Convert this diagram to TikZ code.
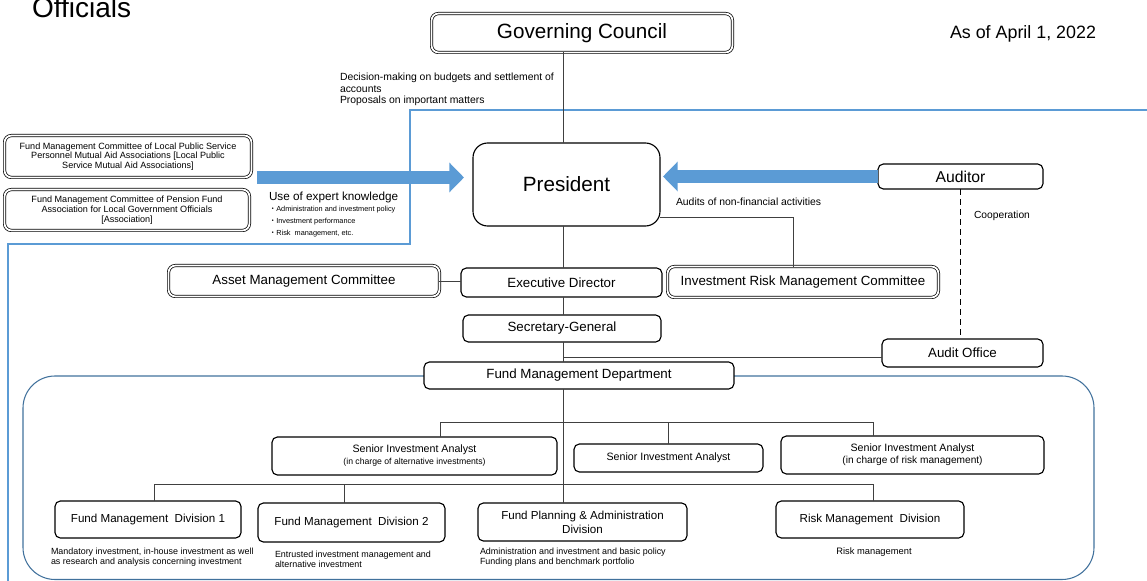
\documentclass[tikz,border=0pt]{standalone}
\usepackage{fontspec}
\setmainfont{Liberation Sans}
\newfontfamily\cjk{Noto Sans CJK JP}
\usetikzlibrary{arrows.meta}
\definecolor{frameblue}{HTML}{5B9BD5}
\definecolor{deptblue}{HTML}{41719C}
\definecolor{arrowblue}{HTML}{5B9BD5}
\newcommand\fsz[2]{\fontsize{#1}{#2}\selectfont}
\begin{document}
\begin{tikzpicture}[x=0.75pt,y=-0.75pt,
  every node/.style={inner sep=0pt,outer sep=0pt,text=black},
  box/.style={draw=black,line width=0.85pt,rounded corners=4pt,fill=white,align=center},
  dbox/.style={draw=black,line width=0.55pt,double=white,double distance=1.3pt,rounded corners=5pt,fill=white,align=center},
  conn/.style={draw=black!75,line width=0.7pt},
  bigarrow/.style={draw=arrowblue,line width=9.5pt,-{Triangle[width=21.75pt,length=11pt]}},
  lbl/.style={anchor=west,align=left}]
\useasboundingbox (0,0) rectangle (1147,581);

% title and date
\node[anchor=base west,font=\fsz{21pt}{24pt}] (title) at (32,18) {Officials};
\node[anchor=base west,font=\fsz{13.4pt}{16pt}] (date) at (950,38.5) {As of April 1, 2022};

% outer blue frame line
\draw[frameblue,line width=1.6pt] (1150,110) -- (410,110) -- (410,244) -- (8,244) -- (8,585);

% department frame
\draw[deptblue,line width=0.8pt,rounded corners=24pt] (23,376) rectangle (1094,579.5);

% nodes
\node[dbox,minimum width=225.6pt,minimum height=29.1pt,font=\fsz{15.5pt}{18pt}] (gc) at (582,33) {Governing Council};
\node[box,rounded corners=11pt,minimum width=140.25pt,minimum height=62.25pt,font=\fsz{15.5pt}{18pt}] (pres) at (566.5,184.5) {President};
\node[dbox,minimum width=185.1pt,minimum height=31.35pt,font=\fsz{6.8pt}{7.3pt}] (lb1) at (128,156.5) {Fund Management Committee of Local Public Service\\Personnel Mutual Aid Associations [Local Public\\Service Mutual Aid Associations]};
\node[dbox,minimum width=183.6pt,minimum height=30.6pt,font=\fsz{6.8pt}{7.3pt}] (lb2) at (127,210) {Fund Management Committee of Pension Fund\\Association for Local Government Officials\\{[Association]}};
\node[box,minimum width=123.75pt,minimum height=18.75pt,font=\fsz{11.8pt}{14pt}] (aud) at (960.5,176.5) {Auditor};
\node[dbox,minimum width=203.1pt,minimum height=23.1pt,font=\fsz{10pt}{12pt}] (amc) at (304,281) {Asset Management Committee};
\node[box,minimum width=150.75pt,minimum height=21.75pt,font=\fsz{10pt}{12pt}] (ed) at (561.5,282.5) {Executive Director};
\node[dbox,minimum width=203.1pt,minimum height=23.1pt,font=\fsz{10pt}{12pt}] (irmc) at (803,282) {Investment Risk Management Committee};
\node[box,minimum width=148.5pt,minimum height=20.25pt,font=\fsz{10pt}{12pt}] (sg) at (562,328.5) {Secretary-General};
\node[box,minimum width=120.75pt,minimum height=21pt,font=\fsz{10pt}{12pt}] (ao) at (962.5,353) {Audit Office};
\node[box,minimum width=232.5pt,minimum height=20.25pt,font=\fsz{10pt}{12pt}] (fmd) at (579,375.5) {Fund Management Department};

\node[box,minimum width=213.75pt,minimum height=28.5pt,font=\fsz{8pt}{9pt}] (sia1) at (414.5,456) {Senior Investment Analyst\\{\fsz{6.5pt}{9pt}(in charge of alternative investments)}};
\node[box,minimum width=141.75pt,minimum height=21pt,font=\fsz{8pt}{9pt}] (sia2) at (668.5,458) {Senior Investment Analyst};
\node[box,minimum width=197.25pt,minimum height=28.5pt,font=\fsz{8pt}{9pt}] (sia3) at (912.5,455) {Senior Investment Analyst\\{\fsz{7.6pt}{9pt}(in charge of risk management)}};
\node[box,minimum width=139.5pt,minimum height=27.75pt,font=\fsz{8.7pt}{10.5pt}] (fmd1) at (148,519.5) {Fund Management\ \ Division 1};
\node[box,minimum width=140.25pt,minimum height=29.25pt,font=\fsz{8.7pt}{10.5pt}] (fmd2) at (351.5,522.5) {Fund Management\ \ Division 2};
\node[box,minimum width=156.75pt,minimum height=28.5pt,font=\fsz{8.7pt}{10.5pt}] (fpad) at (582.5,522) {Fund Planning \& Administration\\Division};
\node[box,minimum width=141pt,minimum height=27.75pt,font=\fsz{8.7pt}{10.5pt}] (rmd) at (870,519.5) {Risk Management\ \ Division};

% texts
\node[lbl,font=\fsz{7.8pt}{8.6pt}] (dec) at (340,89.5) {Decision-making on budgets and settlement of\\accounts\\Proposals on important matters};
\node[lbl,font=\fsz{8.8pt}{10pt}] (use) at (269,197) {Use of expert knowledge};
\node[lbl,font=\fsz{5.5pt}{6.5pt}] (u1) at (269,209.5) {{\cjk ・}Administration and investment policy};
\node[lbl,font=\fsz{5.5pt}{6.5pt}] (u2) at (269,222) {{\cjk ・}Investment performance};
\node[lbl,font=\fsz{5.5pt}{6.5pt}] (u3) at (269,234) {{\cjk ・}Risk\ \ management, etc.};
\node[lbl,font=\fsz{7.8pt}{9pt}] (audtxt) at (676,202) {Audits of non-financial activities};
\node[lbl,font=\fsz{7.7pt}{9pt}] (coop) at (974,216) {Cooperation};
\node[lbl,font=\fsz{6.7pt}{7.6pt}] (c1) at (51,557.5) {Mandatory investment, in-house investment as well\\as research and analysis concerning investment};
\node[lbl,font=\fsz{6.7pt}{7.6pt}] (c2) at (275,559) {Entrusted investment management and\\alternative investment};
\node[lbl,font=\fsz{6.7pt}{7.6pt}] (c3) at (480,557) {Administration and investment and basic policy\\Funding plans and benchmark portfolio};
\node[font=\fsz{7pt}{8pt}] (c4) at (874,552) {Risk management};

% block arrows
\coordinate (la) at (257,177.5);
\draw[bigarrow,shorten >=6.75pt] (la) -- (la -| pres.west);
\draw[bigarrow,shorten >=2.25pt] (aud.west) -- (aud.west -| pres.east);

% connectors
\coordinate (sp) at (563,0);
\draw[conn] (gc.south -| sp) -- (pres.north -| sp);
\draw[conn] (pres.south -| sp) -- (ed.north -| sp);
\draw[conn] (ed.south -| sp) -- (sg.north -| sp);
\draw[conn] (sg.south -| sp) -- (fmd.north -| sp);
\draw[conn] (amc.east) -- (amc.east -| ed.west);
\coordinate (irTap) at (793,217);
\draw[conn] (irTap -| pres.east) -- (irTap) -- (irTap |- irmc.north);
\coordinate (aoTap) at (563,357);
\draw[conn] (aoTap) -- (aoTap -| ao.west);
\draw[line width=1.1pt,dash pattern=on 4.5pt off 3pt] (aud.south) -- (aud.south |- ao.north);

% tree under department
\coordinate (ubL) at (440,422);
\coordinate (ubR) at (873,422);
\coordinate (lbL) at (154,484);
\coordinate (lbR) at (873,484);
\coordinate (d2) at (344,484);
\draw[conn] (fmd.south -| sp) -- (fpad.north -| sp);
\draw[conn] (ubL) -- (ubR);
\draw[conn] (ubL) -- (ubL |- sia1.north);
\draw[conn] (sia2.north) -- (sia2.north |- ubL);
\draw[conn] (ubR) -- (ubR |- sia3.north);
\draw[conn] (lbL) -- (lbR);
\draw[conn] (lbL) -- (lbL |- fmd1.north);
\draw[conn] (d2) -- (d2 |- fmd2.north);
\draw[conn] (lbR) -- (lbR |- rmd.north);
\end{tikzpicture}
\end{document}
